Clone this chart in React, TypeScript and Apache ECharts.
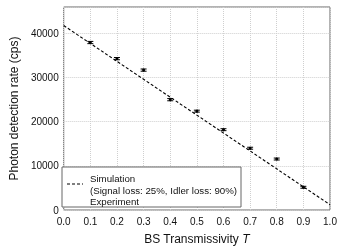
import React, { useEffect, useRef } from "react";
import * as echarts from "echarts";

const simT = [0.0, 1.0];
const simRate = [41800, 1200];

const expT = [0.1, 0.2, 0.3, 0.4, 0.5, 0.6, 0.7, 0.8, 0.9];
const expRate = [37950, 34300, 31700, 25000, 22400, 18200, 14000, 11550, 5150];
const expErr = [250, 250, 250, 250, 220, 220, 220, 220, 220];

const xTicks = { min: 0, max: 1, interval: 0.1 };
const yTicks = { min: 0, max: 46000, interval: 10000 };

const FONT = "Liberation Sans, Arial, sans-serif";

export default function App() {
  const ref = useRef<HTMLDivElement>(null);
  useEffect(() => {
    if (!ref.current) return;
    const chart = echarts.init(ref.current, undefined, { renderer: "svg" });
    const expData = expT.map((t, i) => [t, expRate[i], expErr[i]]);
    chart.setOption({
      animation: false,
      textStyle: { fontFamily: FONT },
      grid: {
        left: 57,
        right: 10,
        top: 7,
        bottom: 38,
        show: true,
        borderColor: "#666",
        borderWidth: 1,
        backgroundColor: "transparent",
      },
      xAxis: {
        type: "value",
        min: xTicks.min,
        max: xTicks.max,
        interval: xTicks.interval,
        axisLine: { show: false },
        axisTick: { show: false },
        axisLabel: {
          color: "#111",
          fontSize: 10,
          fontFamily: FONT,
          margin: 6,
          formatter: (v: number) => v.toFixed(1),
        },
        splitLine: { show: true, lineStyle: { color: "#cfcfcf", type: [1, 1], width: 1 } },
        name: "{n|BS Transmissivity }{i|T}",
        nameLocation: "middle",
        nameGap: 23,
        nameTextStyle: {
          rich: {
            n: { fontSize: 12, fontFamily: FONT, color: "#111" },
            i: { fontSize: 12, fontFamily: FONT, color: "#111", fontStyle: "italic" },
          },
        },
      },
      yAxis: {
        type: "value",
        min: yTicks.min,
        max: yTicks.max,
        interval: yTicks.interval,
        axisLine: { show: false },
        axisTick: { show: false },
        axisLabel: {
          color: "#111",
          fontSize: 10,
          fontFamily: FONT,
          margin: 5,
          showMaxLabel: false,
          formatter: (v: number) => String(v),
        },
        splitLine: { show: true, lineStyle: { color: "#cfcfcf", type: [1, 1], width: 1 } },
        name: "Photon detection rate (cps)",
        nameLocation: "middle",
        nameGap: 41,
        nameTextStyle: { fontSize: 12, fontFamily: FONT, color: "#111" },
      },
      series: [
        {
          type: "line",
          data: simT.map((t, i) => [t, simRate[i]]),
          symbol: "none",
          lineStyle: { color: "#000", width: 1.1, type: [3, 2] },
          z: 3,
        },
        {
          type: "custom",
          data: expData,
          z: 4,
          renderItem: (params: any, api: any) => {
            const x = api.value(0);
            const y = api.value(1);
            const e = api.value(2);
            const c = api.coord([x, y]);
            const top = api.coord([x, y + e]);
            const bot = api.coord([x, y - e]);
            const hw = 3;
            const st = { stroke: "#000", lineWidth: 1 };
            return {
              type: "group",
              children: [
                { type: "line", shape: { x1: c[0], y1: top[1], x2: c[0], y2: bot[1] }, style: st },
                { type: "line", shape: { x1: c[0] - hw, y1: top[1], x2: c[0] + hw, y2: top[1] }, style: st },
                { type: "line", shape: { x1: c[0] - hw, y1: bot[1], x2: c[0] + hw, y2: bot[1] }, style: st },
                { type: "circle", shape: { cx: c[0], cy: c[1], r: 1.5 }, style: { fill: "#000" } },
              ],
            };
          },
        },
      ],
      graphic: [
        {
          type: "rect",
          shape: { x: 62, y: 167, width: 179, height: 40 },
          style: { fill: "#fff", stroke: "#666", lineWidth: 1 },
          z: 10,
        },
        {
          type: "line",
          shape: { x1: 67, y1: 184, x2: 83, y2: 184 },
          style: { stroke: "#000", lineWidth: 1.1, lineDash: [3, 2] },
          z: 11,
        },
        {
          type: "group",
          z: 11,
          children: [
            { type: "line", shape: { x1: 74, y1: 196, x2: 74, y2: 206 }, style: { stroke: "#000", lineWidth: 1 } },
            { type: "line", shape: { x1: 71, y1: 196, x2: 77, y2: 196 }, style: { stroke: "#000", lineWidth: 1 } },
            { type: "line", shape: { x1: 71, y1: 206, x2: 77, y2: 206 }, style: { stroke: "#000", lineWidth: 1 } },
            { type: "circle", shape: { cx: 74, cy: 201, r: 1.5 }, style: { fill: "#000" } },
          ],
        },
        {
          type: "text",
          x: 90,
          y: 172,
          z: 11,
          style: {
            text: "Simulation\n(Signal loss: 25%, Idler loss: 90%)",
            font: "9.7px " + FONT,
            fill: "#111",
            lineHeight: 12,
          },
        },
        {
          type: "text",
          x: 90,
          y: 196,
          z: 11,
          style: { text: "Experiment", font: "9.7px " + FONT, fill: "#111" },
        },
      ],
    });
    return () => chart.dispose();
  }, []);
  return <div ref={ref} style={{ position: "fixed", left: 0, top: 0, width: 340, height: 250 }} />;
}
